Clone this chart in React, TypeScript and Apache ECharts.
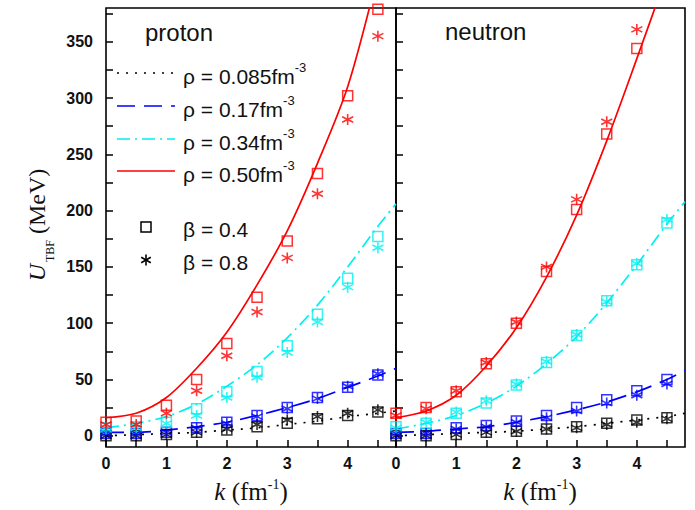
import React, { useEffect, useRef } from "react";
import * as echarts from "echarts";

// k grids (fm^-1)
const K_POINTS = [0, 0.5, 1, 1.5, 2, 2.5, 3, 3.5, 4, 4.5];
const K_CURVE = [0, 0.5, 1, 1.5, 2, 2.5, 3, 3.5, 4, 4.5, 4.8];

// proton, U_TBF (MeV): curves
const P_CURVE_085 = [0, 1, 2, 3, 5, 7, 10, 13, 17, 20, 22];
const P_CURVE_017 = [3, 3, 5, 8, 12, 18, 25, 33, 43, 53, 60];
const P_CURVE_034 = [7, 11, 17, 28, 44, 63, 87, 116, 150, 186, 206];
const P_CURVE_050 = [16, 20, 34, 60, 92, 134, 182, 242, 310, 410];
// proton, beta = 0.4 (squares)
const P_B04_085 = [0, 0, 1, 3, 5, 8, 11, 15, 18, 21];
const P_B04_017 = [2, 2, 3, 7, 12, 18, 25, 34, 43, 54];
const P_B04_034 = [7, 8, 12, 24, 39, 57, 80, 108, 140, 177];
const P_B04_050 = [12, 13, 27, 50, 82, 123, 173, 233, 302, 379];
// proton, beta = 0.8 (stars)
const P_B08_085 = [0, 0, 1, 3, 6, 10, 14, 17, 20, 23];
const P_B08_017 = [2, 2, 3, 7, 11, 17, 24, 33, 44, 55];
const P_B08_034 = [6, 7, 11, 18, 34, 52, 74, 101, 132, 167];
const P_B08_050 = [10, 10, 20, 40, 71, 110, 158, 215, 281, 355];

// neutron, U_TBF (MeV): curves
const N_CURVE_085 = [0, 1, 2, 3, 4, 6, 8, 11, 14, 17, 20];
const N_CURVE_017 = [3, 4, 6, 8, 12, 17, 23, 30, 39, 50, 58];
const N_CURVE_034 = [6, 11, 18, 29, 44, 64, 88, 118, 152, 188, 208];
const N_CURVE_050 = [16, 22, 36, 62, 96, 141, 196, 262, 335, 410];
// neutron, beta = 0.4 (squares)
const N_B04_085 = [0, 0, 1, 3, 4, 6, 8, 11, 14, 16];
const N_B04_017 = [2, 2, 7, 9, 13, 18, 25, 32, 40, 50];
const N_B04_034 = [8, 11, 20, 29, 45, 65, 89, 120, 152, 189];
const N_B04_050 = [20, 25, 39, 64, 100, 146, 201, 268, 344];
// neutron, beta = 0.8 (stars)
const N_B08_085 = [0, 0, 1, 3, 4, 6, 7, 10, 12, 15];
const N_B08_017 = [2, 2, 6, 8, 12, 16, 22, 29, 36, 46];
const N_B08_034 = [7, 12, 21, 31, 46, 66, 90, 119, 153, 192];
const N_B08_050 = [18, 24, 40, 65, 101, 150, 210, 279, 361];

// axis ticks and labels
const X_TICKS = [0, 0.5, 1, 1.5, 2, 2.5, 3, 3.5, 4, 4.5];
const X_LABELS = [0, 1, 2, 3, 4];
const Y_TICKS = [0, 25, 50, 75, 100, 125, 150, 175, 200, 225, 250, 275, 300, 325, 350, 375];
const Y_LABELS = [0, 50, 100, 150, 200, 250, 300, 350];

const DENSITY_LABELS = ["ρ = 0.085fm", "ρ = 0.17fm", "ρ = 0.34fm", "ρ = 0.50fm"];
const BETA_LABELS = ["β = 0.4", "β = 0.8"];
const PANEL_TITLES = ["proton", "neutron"];

const COLORS = ["#000000", "#0000ff", "#00f0f0", "#ff0000"];
const DASHES: any[] = [[2, 7], [18, 9], [13, 5, 2, 5], "solid"];

const STAR = "path://M5 0L5 10M0.67 2.5L9.33 7.5M0.67 7.5L9.33 2.5";

const zip = (ks: number[], vs: number[]) => vs.map((v, i) => [ks[i], v]);

const FONT = "'Liberation Sans', Arial, sans-serif";
const SERIF = "'Liberation Serif', 'Times New Roman', serif";

export default function App() {
  const ref = useRef<HTMLDivElement>(null);

  useEffect(() => {
    if (!ref.current) return;
    const chart = echarts.init(ref.current, undefined, { renderer: "svg" });

    const panels = [
      {
        curves: [P_CURVE_085, P_CURVE_017, P_CURVE_034, P_CURVE_050],
        b04: [P_B04_085, P_B04_017, P_B04_034, P_B04_050],
        b08: [P_B08_085, P_B08_017, P_B08_034, P_B08_050],
      },
      {
        curves: [N_CURVE_085, N_CURVE_017, N_CURVE_034, N_CURVE_050],
        b04: [N_B04_085, N_B04_017, N_B04_034, N_B04_050],
        b08: [N_B08_085, N_B08_017, N_B08_034, N_B08_050],
      },
    ];

    const series: any[] = [];
    panels.forEach((p, gi) => {
      p.curves.forEach((vals, di) => {
        series.push({
          type: "line",
          xAxisIndex: gi,
          yAxisIndex: gi,
          data: zip(K_CURVE, vals),
          smooth: 0.3,
          showSymbol: false,
          symbol: "none",
          lineStyle: { color: COLORS[di], width: 1.7, type: DASHES[di] },
          z: 2,
        });
      });
      p.b04.forEach((vals, di) => {
        series.push({
          type: "scatter",
          xAxisIndex: gi,
          yAxisIndex: gi,
          data: zip(K_POINTS, vals),
          symbol: "rect",
          symbolSize: 10,
          itemStyle: { color: "transparent", borderColor: COLORS[di], borderWidth: 1.5 },
          z: 3,
        });
      });
      p.b08.forEach((vals, di) => {
        series.push({
          type: "scatter",
          xAxisIndex: gi,
          yAxisIndex: gi,
          data: zip(K_POINTS, vals),
          symbol: STAR,
          symbolSize: 11,
          itemStyle: { color: "transparent", borderColor: COLORS[di], borderWidth: 1.6 },
          z: 3,
        });
      });
    });

    const grids = [
      { left: 106, top: 8, width: 290, height: 439 },
      { left: 396, top: 8, width: 289, height: 439 },
    ].map((g) => ({
      ...g,
      show: true,
      borderColor: "#000",
      borderWidth: 1.6,
      backgroundColor: "transparent",
    }));

    const xAxes = [0, 1].map((gi) => ({
      type: "value",
      gridIndex: gi,
      min: 0,
      max: 4.8,
      position: "bottom",
      axisLine: { show: false, onZero: false },
      splitLine: { show: false },
      axisTick: {
        show: true,
        inside: true,
        length: 7,
        customValues: X_TICKS,
        lineStyle: { color: "#000", width: 1.5 },
      },
      axisLabel: {
        customValues: X_LABELS,
        margin: 8,
        color: "#111",
        fontSize: 16,
        fontWeight: "bold",
        fontFamily: FONT,
      },
    }));

    const yAxes = [0, 1].map((gi) => ({
      type: "value",
      gridIndex: gi,
      min: -10,
      max: 380,
      position: "left",
      axisLine: { show: false, onZero: false },
      splitLine: { show: false },
      axisTick: {
        show: true,
        inside: true,
        length: 7,
        customValues: Y_TICKS,
        lineStyle: { color: "#000", width: 1.5 },
      },
      axisLabel: {
        show: gi === 0,
        customValues: Y_LABELS,
        margin: 13,
        color: "#111",
        fontSize: 16,
        fontWeight: "bold",
        fontFamily: FONT,
      },
    }));

    const legendRowsY = [73, 106, 139, 171];
    const graphic: any[] = [];

    // panel titles
    graphic.push({
      type: "text",
      x: 145,
      y: 32,
      style: { text: PANEL_TITLES[0], font: `24px ${FONT}`, fill: "#111", verticalAlign: "middle" },
    });
    graphic.push({
      type: "text",
      x: 445,
      y: 31,
      style: { text: PANEL_TITLES[1], font: `24px ${FONT}`, fill: "#111", verticalAlign: "middle" },
    });

    // density legend: line samples and labels
    legendRowsY.forEach((y, i) => {
      graphic.push({
        type: "line",
        shape: { x1: 117, y1: y, x2: 175, y2: y },
        style: {
          stroke: COLORS[i],
          lineWidth: 1.7,
          lineDash: DASHES[i] === "solid" ? null : DASHES[i],
        },
      });
      graphic.push({
        type: "text",
        x: 183,
        y: y + 3,
        style: {
          text: `{m|${DENSITY_LABELS[i]}}{s|-3}`,
          verticalAlign: "middle",
          rich: {
            m: { fontSize: 21, fontFamily: FONT, fill: "#111", lineHeight: 30 },
            s: { fontSize: 13, fontFamily: FONT, fill: "#111", lineHeight: 13, verticalAlign: "top" },
          },
        },
      });
    });

    // beta legend: square and star markers
    graphic.push({
      type: "rect",
      shape: { x: 141, y: 222, width: 10, height: 10 },
      style: { fill: "transparent", stroke: "#000", lineWidth: 1.5 },
    });
    const sx = 146;
    const sy = 260;
    [[0, -5.5, 0, 5.5], [-4.8, -2.75, 4.8, 2.75], [-4.8, 2.75, 4.8, -2.75]].forEach((l) => {
      graphic.push({
        type: "line",
        shape: { x1: sx + l[0], y1: sy + l[1], x2: sx + l[2], y2: sy + l[3] },
        style: { stroke: "#000", lineWidth: 1.6 },
      });
    });
    BETA_LABELS.forEach((t, i) => {
      graphic.push({
        type: "text",
        x: 183,
        y: 229 + i * 33,
        style: { text: t, font: `21px ${FONT}`, fill: "#111", verticalAlign: "middle" },
      });
    });

    // axis titles
    [251, 540].forEach((cx) => {
      graphic.push({
        type: "text",
        x: cx,
        y: 491,
        style: {
          text: "{k|k}{n| (fm}{s|-1}{n|)}",
          align: "center",
          verticalAlign: "middle",
          rich: {
            k: { fontSize: 25, fontFamily: SERIF, fontStyle: "italic", fill: "#111", lineHeight: 28 },
            n: { fontSize: 25, fontFamily: SERIF, fill: "#111", lineHeight: 28 },
            s: { fontSize: 14, fontFamily: SERIF, fill: "#111", lineHeight: 14, verticalAlign: "top" },
          },
        },
      });
    });
    graphic.push({
      type: "text",
      x: 37,
      y: 225,
      rotation: Math.PI / 2,
      style: {
        text: "{u|U}{s|TBF}{n|(MeV)}",
        align: "center",
        verticalAlign: "middle",
        rich: {
          u: { fontSize: 24, fontFamily: SERIF, fontStyle: "italic", fill: "#111", lineHeight: 38, padding: [0, 2, 0, 0] },
          s: { fontSize: 12, fontFamily: SERIF, fill: "#111", lineHeight: 12, verticalAlign: "bottom", padding: [0, 6, 0, 0] },
          n: { fontSize: 24, fontFamily: SERIF, fill: "#111", lineHeight: 38 },
        },
      },
    });

    chart.setOption({
      animation: false,
      backgroundColor: "#ffffff",
      grid: grids,
      xAxis: xAxes,
      yAxis: yAxes,
      series,
      graphic,
    });

    return () => chart.dispose();
  }, []);

  return (
    <div
      ref={ref}
      style={{ position: "absolute", left: 0, top: 0, width: 695, height: 510 }}
    />
  );
}
